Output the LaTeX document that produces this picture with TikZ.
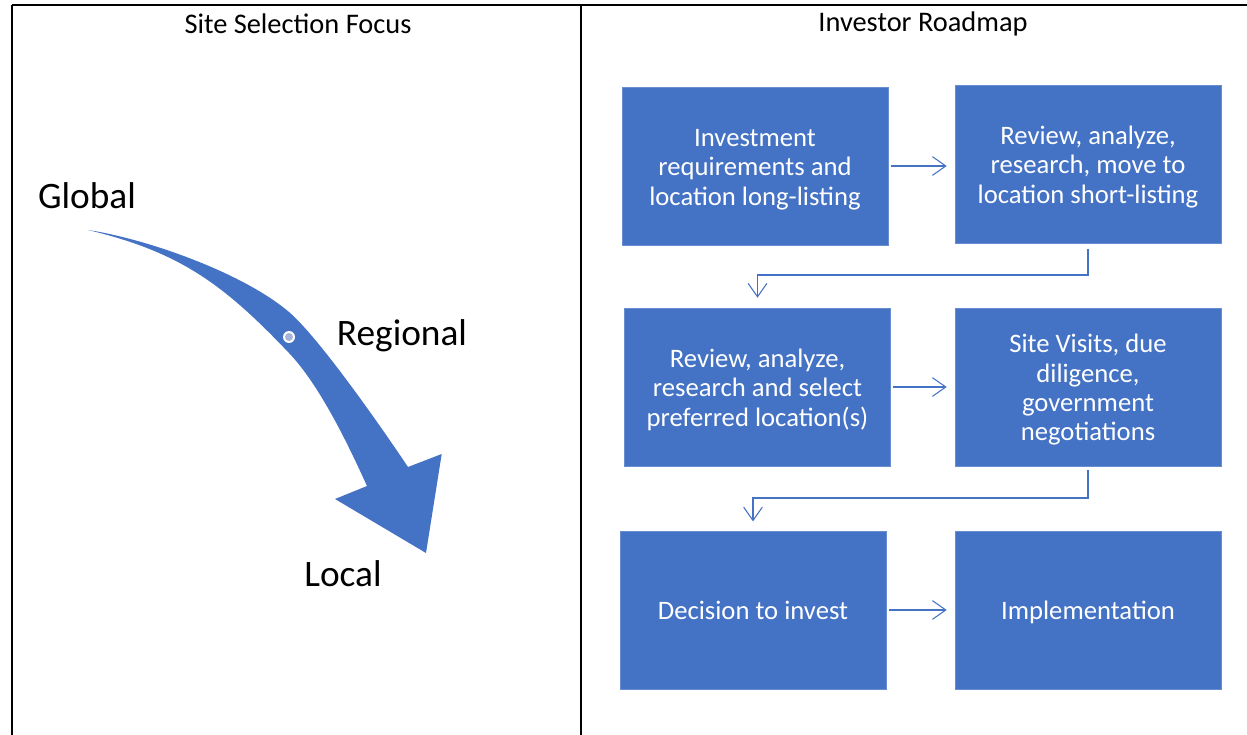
\documentclass[tikz,border=0pt]{standalone}
\usepackage{fontspec}
\setmainfont{Carlito}
\usetikzlibrary{arrows.meta}
\definecolor{officeblue}{HTML}{4472C4}
\definecolor{handle}{HTML}{A9B4DA}
% fixed first-line height and last-line depth, so every box centres its text alike
\newcommand{\boxtop}{\rule{0pt}{20.2pt}}
\newcommand{\boxbot}{\rule[-5.6pt]{0pt}{5.6pt}}
\begin{document}
\begin{tikzpicture}[x=0.75pt,y=-0.75pt,
  stepbox/.style={fill=officeblue, draw=officeblue!80!white, line width=0.4pt,
    minimum width=199.5pt, minimum height=118.5pt, inner sep=0pt,
    text=white, align=center, font=\fontsize{20}{22}\selectfont},
  conn/.style={draw=officeblue, line width=0.8pt, line join=miter,
    -{Straight Barb[length=10pt,width=14pt]}},
  frame/.style={line width=1.5pt, black},
  title/.style={font=\fontsize{21.3}{25}\selectfont},
  level/.style={font=\fontsize{28}{33}\selectfont}]

\useasboundingbox (0,0) rectangle (1247,735);

% table frame
\draw[frame] (12,5) -- (1247,5);
\draw[frame] (12,5) -- (12,735);
\draw[frame] (581,5) -- (581,735);

% column headings
\node[title] (t1) at (298,24) {Site Selection Focus};
\node[title] (t2) at (923,24) {Investor Roadmap};

% curved focus arrow: inner edge, head, outer edge back to the tail
\fill[officeblue]
  (88,230) .. controls (180.3,252.1) and (223.5,284.2) .. (289,353)
  .. controls (320,385.6) and (348.4,445) .. (367,486)
  -- (335,499) -- (426,553) -- (441.7,454) -- (408,467)
  .. controls (385.8,433.7) and (319.5,337.9) .. (289,312)
  .. controls (243.3,273.1) and (147.3,238.9) .. (88,230)
  -- cycle;
\fill[white] (289,337) circle (6);
\fill[handle] (289,337) circle (4);

\node[level] (global) at (87,196) {Global};
\node[level] (regional) at (402,336) {Regional};
\node[level] (local) at (343,574) {Local};

% roadmap steps
\node[stepbox] (b1) at (755,166) {\boxtop Investment\\requirements and\\location long-listing\boxbot};
\node[stepbox] (b2) at (1088,164) {\boxtop Review, analyze,\\research, move to\\location short-listing\boxbot};
\node[stepbox] (b3) at (757.5,387) {\boxtop Review, analyze,\\research and select\\preferred location(s)\boxbot};
\node[stepbox] (b4) at (1088,387) {\boxtop Site Visits, due\\diligence,\\government\\negotiations\boxbot};
\node[stepbox] (b5) at (753,610) {\boxtop Decision to invest\boxbot};
\node[stepbox] (b6) at (1088,610) {\boxtop Implementation\boxbot};

\coordinate (m1) at (920,275);
\coordinate (m2) at (920,498);

% connectors
\draw[conn, shorten <=2pt, shorten >=6pt] (b1.east) -- (b2.west |- b1.east);
\draw[conn, shorten <=4.5pt, shorten >=7.5pt] (b2.south) |- (m1) -| (b3.north);
\draw[conn, shorten <=2pt, shorten >=6pt] (b3.east) -- (b4.west |- b3.east);
\draw[conn, shorten <=3pt, shorten >=7pt] (b4.south) |- (m2) -| (b5.north);
\draw[conn, shorten <=2pt, shorten >=6pt] (b5.east) -- (b6.west |- b5.east);
\end{tikzpicture}
\end{document}
